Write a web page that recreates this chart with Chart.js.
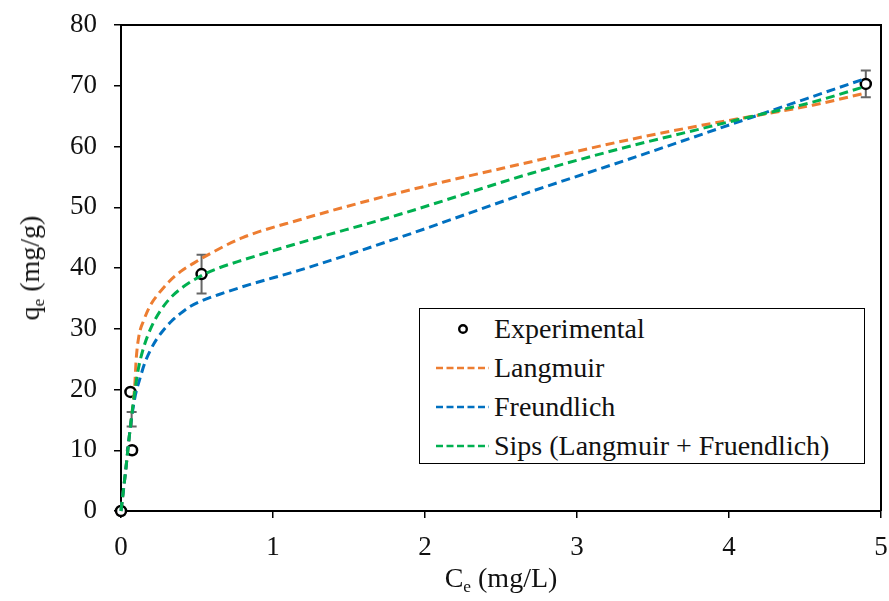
<!DOCTYPE html>
<html>
<head>
<meta charset="utf-8">
<script src="https://cdn.jsdelivr.net/npm/chart.js@4.4.1/dist/chart.umd.min.js"></script>
<style>
  body { margin: 0; background: #fff; }
  #wrap { position: relative; width: 889px; height: 601px; font-family: "Liberation Serif", Tinos, "Times New Roman", Times, "Nimbus Roman", "DejaVu Serif", serif; color: #111; }
  #chart { position: absolute; left: 0; top: 0; }
  .title { position: absolute; font-size: 28px; white-space: nowrap; line-height: 1; }
  .ytitle { left: 30px; top: 268px; transform: translate(-50%, -50%) rotate(-90deg); }
  .xtitle { left: 501px; top: 578px; transform: translate(-50%, -50%); }
  sub { font-size: 0.62em; vertical-align: -0.3em; line-height: 0; }
  .legend { position: absolute; left: 419px; top: 308px; width: 444px; height: 154px; border: 1.5px solid #000; background: #fff; }
  .row { position: absolute; left: 0; height: 39px; display: flex; align-items: center; font-size: 28px; white-space: nowrap; }
  .row svg { margin-left: 14px; margin-right: 5px; }
</style>
</head>
<body>
<div id="wrap">
  <canvas id="chart" width="889" height="601"></canvas>
  <div class="title ytitle">q<sub>e</sub> (mg/g)</div>
  <div class="title xtitle">C<sub>e</sub> (mg/L)</div>
  <div class="legend" id="legend"></div>
</div>
<script>
// experimental points (Ce, qe) with error
const expX = [0, 0.073, 0.07, 0.062, 0.53, 4.9];
const expY = [0, 10.0, 15.1, 19.6, 39.0, 70.3];
const expErr = [0, 0, 1.2, 0, 3.2, 2.2];
// the 15 point sits under the fitted lines in the picture
const expShown = [true, true, false, true, true, true];

// fitted curves
const langX = [0, 0.03, 0.06, 0.09, 0.1, 0.117, 0.15, 0.194, 0.248, 0.314, 0.391, 0.479, 0.589, 0.8, 1.17, 1.83, 2.7, 3.34, 3.78, 4.09, 4.55, 4.9];
const langY = [0, 6.5, 13.5, 20.5, 25.0, 28.7, 31.4, 33.9, 35.8, 37.7, 39.4, 40.8, 42.4, 45.0, 47.9, 52.4, 57.5, 61.1, 63.3, 64.7, 66.8, 68.8];

const freuX = [0, 0.03, 0.06, 0.09, 0.128, 0.16, 0.194, 0.235, 0.28, 0.33, 0.39, 0.45, 0.52, 0.64, 0.85, 1.17, 1.83, 2.7, 3.34, 4.09, 4.9];
const freuY = [0, 6.5, 13.5, 18.5, 22.1, 24.6, 26.5, 28.3, 29.8, 31.2, 32.5, 33.6, 34.5, 35.6, 37.3, 39.6, 45.0, 52.6, 57.9, 64.3, 71.2];

const sipsX = [0, 0.03, 0.06, 0.09, 0.115, 0.15, 0.2, 0.26, 0.33, 0.41, 0.534, 0.633, 0.8, 1.17, 1.83, 2.7, 3.34, 3.78, 4.09, 4.55, 4.9];
const sipsY = [0, 6.5, 13.5, 19.5, 23.5, 27.0, 30.3, 33.0, 35.2, 36.9, 38.8, 39.9, 41.3, 44.1, 48.8, 55.6, 60.0, 62.7, 64.6, 67.3, 69.9];

const xTicks = [0, 1, 2, 3, 4, 5];
const yTicks = [0, 10, 20, 30, 40, 50, 60, 70, 80];

const labels = ['Experimental', 'Langmuir', 'Freundlich', 'Sips (Langmuir + Fruendlich)'];
const colors = ['#000000', '#ED7D31', '#0070C0', '#00B050'];

const toPts = (xs, ys) => xs.map((v, i) => ({ x: v, y: ys[i] }));
const font = { family: '"Liberation Serif", Tinos, "Times New Roman", Times, "Nimbus Roman", "DejaVu Serif", serif', size: 27 };

const curve = (i, xs, ys) => ({
  label: labels[i],
  data: toPts(xs, ys),
  showLine: true,
  borderColor: colors[i],
  borderWidth: 3,
  borderDash: [9, 5],
  pointRadius: 0,
  cubicInterpolationMode: 'monotone',
  order: 4 - i,
  clip: false
});

// top/right frame and error bars, under the markers
const errorBars = {
  id: 'errorBars',
  beforeDatasetsDraw(chart) {
    const { ctx, scales: { x, y }, chartArea: a } = chart;
    ctx.save();
    ctx.strokeStyle = '#000';
    ctx.lineWidth = 2;
    ctx.beginPath();
    ctx.moveTo(a.left, a.top); ctx.lineTo(a.right, a.top); ctx.lineTo(a.right, a.bottom);
    ctx.stroke();
    ctx.strokeStyle = '#666';
    expX.forEach((cx, i) => {
      const e = expErr[i];
      if (!e) return;
      const px = x.getPixelForValue(cx);
      const top = y.getPixelForValue(expY[i] + e);
      const bot = y.getPixelForValue(expY[i] - e);
      ctx.beginPath();
      ctx.moveTo(px, top); ctx.lineTo(px, bot);
      ctx.moveTo(px - 5, top); ctx.lineTo(px + 5, top);
      ctx.moveTo(px - 5, bot); ctx.lineTo(px + 5, bot);
      ctx.stroke();
    });
    ctx.restore();
  }
};

new Chart(document.getElementById('chart'), {
  type: 'scatter',
  data: {
    datasets: [
      {
        label: labels[0],
        data: toPts(expX, expY),
        pointStyle: 'circle',
        pointRadius: expShown.map(s => s ? 5 : 0),
        pointBorderWidth: 2.5,
        pointBorderColor: '#000',
        pointBackgroundColor: '#fff',
        order: 10,
        clip: false
      },
      curve(1, langX, langY),
      curve(2, freuX, freuY),
      curve(3, sipsX, sipsY)
    ]
  },
  options: {
    responsive: false,
    animation: false,
    layout: { padding: { top: 25, right: 8, left: 0, bottom: 0 } },
    plugins: { legend: { display: false }, tooltip: { enabled: false } },
    scales: {
      x: {
        type: 'linear', min: 0, max: 5,
        afterFit: s => { s.height = 90; s.paddingLeft = 0; s.paddingRight = 0; },
        afterBuildTicks: s => { s.ticks = xTicks.map(v => ({ value: v })); },
        border: { display: true, color: '#000', width: 2 },
        grid: { display: true, drawOnChartArea: false, drawTicks: true, tickLength: 7, color: '#000', lineWidth: 1.5 },
        ticks: { font, color: '#111', padding: 14, maxRotation: 0 }
      },
      y: {
        type: 'linear', min: 0, max: 80,
        afterFit: s => { s.width = 121; s.paddingTop = 0; s.paddingBottom = 0; },
        afterBuildTicks: s => { s.ticks = yTicks.map(v => ({ value: v })); },
        border: { display: true, color: '#000', width: 2 },
        grid: { display: true, drawOnChartArea: false, drawTicks: true, tickLength: 7, color: '#000', lineWidth: 1.5 },
        ticks: { font, color: '#111', padding: 17 }
      }
    }
  },
  plugins: [errorBars]
});

// legend box
const legend = document.getElementById('legend');
labels.forEach((name, i) => {
  const row = document.createElement('div');
  row.className = 'row';
  row.style.top = (i * 39) + 'px';
  const sw = i === 0
    ? '<svg width="55" height="12"><circle cx="29" cy="6" r="3.8" fill="#fff" stroke="#000" stroke-width="2.4"/></svg>'
    : '<svg width="55" height="12"><line x1="2" y1="6" x2="55" y2="6" stroke="' + colors[i] + '" stroke-width="2.5" stroke-dasharray="7 3.5"/></svg>';
  row.innerHTML = sw + '<span>' + name + '</span>';
  legend.appendChild(row);
});
</script>
</body>
</html>
